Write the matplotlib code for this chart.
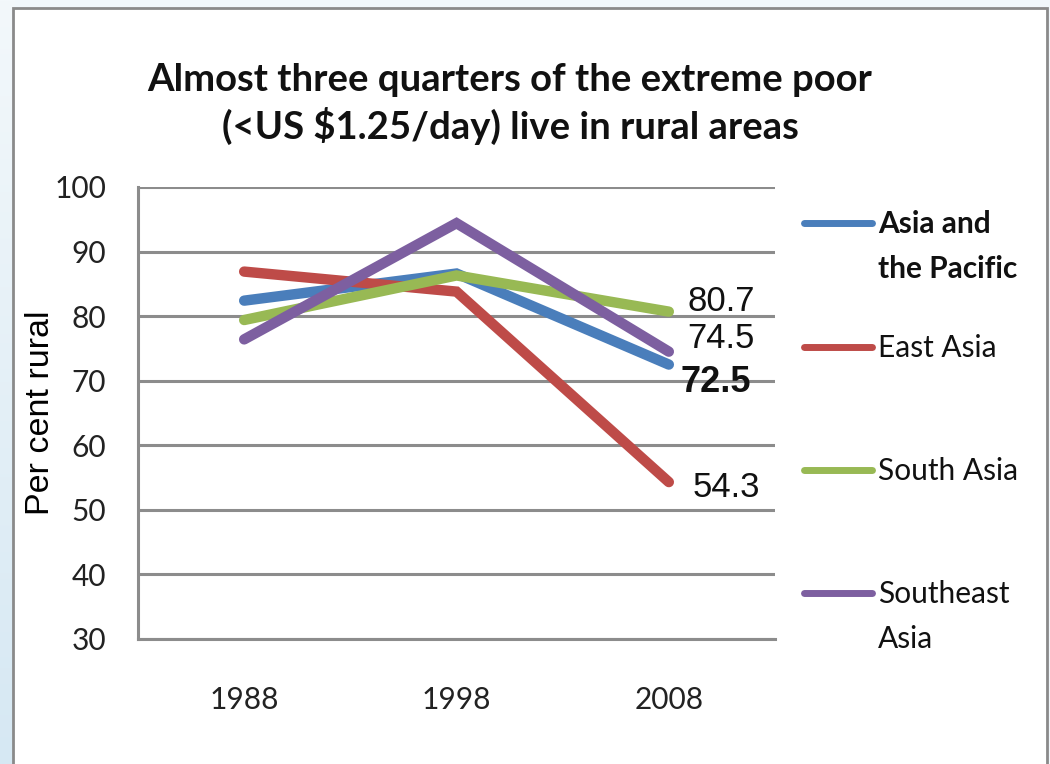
import numpy as np
import matplotlib
matplotlib.use('Agg')
import matplotlib.pyplot as plt
from matplotlib.lines import Line2D
from matplotlib.patches import Rectangle

years = ['1988', '1998', '2008']
asia_pacific = [82.4, 86.6, 72.5]
east_asia = [86.9, 83.8, 54.3]
south_asia = [79.4, 86.3, 80.7]
southeast_asia = [76.4, 94.4, 74.5]

series = [
    ('Asia and\nthe Pacific', asia_pacific, '#4a7ebb', 'bold'),
    ('East Asia', east_asia, '#be4b48', 'normal'),
    ('South Asia', south_asia, '#98b954', 'normal'),
    ('Southeast\nAsia', southeast_asia, '#7d5fa0', 'normal'),
]
# end labels: (text, value, x offset px, y offset px, weight)
end_labels = [
    ('80.7', south_asia[2], 52, 10, 'normal'),
    ('74.5', southeast_asia[2], 52, 13, 'normal'),
    ('72.5', asia_pacific[2], 47, -18, 'bold'),
    ('54.3', east_asia[2], 57, -5, 'normal'),
]

W, H = 1050, 764
fig = plt.figure(figsize=(W / 100, H / 100), dpi=100)
fig.patch.set_facecolor('#f1f7fb')

# slide background gradient on the left strip
bg = fig.add_axes([0, 0, 14 / W, 1], zorder=-10)
grad = np.linspace(0, 1, 256).reshape(-1, 1)
bg.imshow(grad, aspect='auto', cmap=matplotlib.colors.LinearSegmentedColormap.from_list(
    'bg', ['#d6e8f3', '#f3f8fb']), origin='lower', extent=[0, 1, 0, 1])
bg.axis('off')

# chart frame
fig.patches.append(Rectangle((13 / W, -0.05), (1047 - 13) / W, 1.05 - 8 / H,
                             transform=fig.transFigure, facecolor='white',
                             edgecolor='#8a8a8a', lw=2, zorder=-5))

ax = fig.add_axes([138 / W, (H - 639) / H, (775 - 138) / W, (639 - 187) / H])
ax.set_facecolor('none')
x = np.arange(len(years))
for name, vals, color, weight in series:
    ax.plot(x, vals, color=color, lw=7.5, solid_capstyle='round',
            solid_joinstyle='miter', zorder=3)

ax.set_xlim(-0.5, 2.5)
ax.set_ylim(30, 100)
ax.set_yticks(range(30, 101, 10))
ax.set_xticks(x)
ax.set_xticklabels(years)
ax.yaxis.grid(True, color='#8c8c8c', lw=2.2)
ax.set_axisbelow(True)
for s in ['top', 'right']:
    ax.spines[s].set_visible(False)
for s in ['left', 'bottom']:
    ax.spines[s].set_color('#8c8c8c')
    ax.spines[s].set_linewidth(2.2)
ax.tick_params(length=0, labelsize=21.5, colors='#222222')
ax.tick_params(axis='y', pad=23)
ax.tick_params(axis='x', pad=34)
for lab in ax.get_xticklabels() + ax.get_yticklabels():
    lab.set_family('Lato')

ax.set_ylabel('Per cent rural', family='Liberation Sans', fontsize=24.5)
ax.yaxis.set_label_coords(-0.128, 0.5)

for txt, val, dx, dy, weight in end_labels:
    ax.annotate(txt, (2, val), xytext=(dx * 0.72, dy * 0.72), textcoords='offset points',
                ha='center', va='center', fontsize=25 if weight == 'normal' else 26,
                family='Liberation Sans', fontweight=weight, color='#111111')

fig.text(510 / W, 1 - 104 / H,
         'Almost three quarters of the extreme poor\n(<US $1.25/day) live in rural areas',
         ha='center', va='center', fontsize=27.5, fontweight='bold', family='Lato',
         linespacing=1.3, color='#111111')

# legend
leg_y = [223, 347, 470, 593]
for (name, vals, color, weight), yp in zip(series, leg_y):
    fig.lines.append(Line2D([804 / W, 872 / W], [1 - yp / H, 1 - yp / H],
                            transform=fig.transFigure, color=color, lw=5,
                            solid_capstyle='round'))
    fig.text(878 / W, 1 - (yp - 13) / H, name, ha='left', va='top', fontsize=21.5,
             family='Lato', fontweight=weight, linespacing=1.75, color='#111111')

fig.savefig('out.png', dpi=100)
